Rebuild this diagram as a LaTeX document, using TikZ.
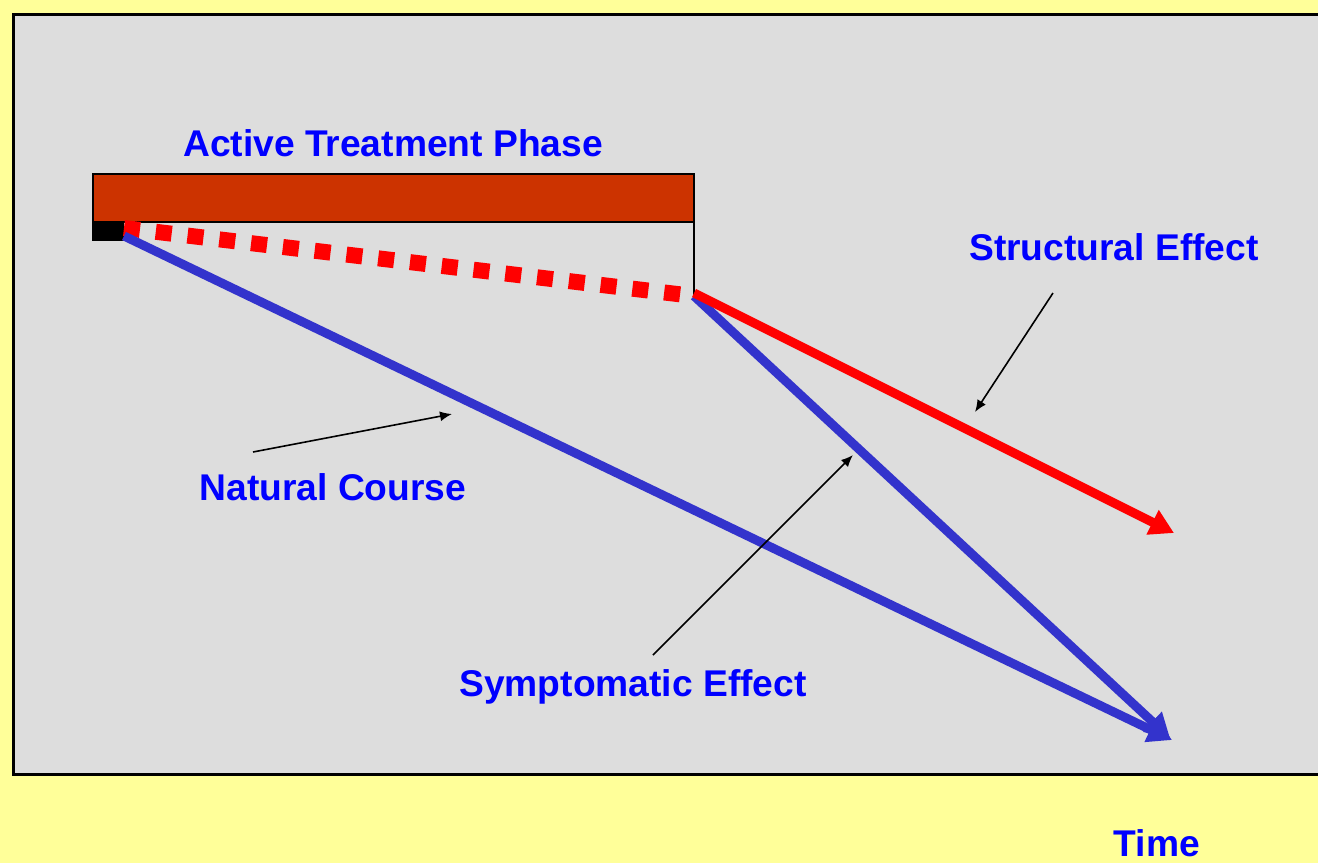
\documentclass[tikz,border=0pt]{standalone}
\usepackage{fontspec}
\setmainfont{Liberation Sans}
\usepackage{tikz}
\usetikzlibrary{arrows.meta,positioning,calc}
\usepackage{xcolor}
\definecolor{bgyellow}{HTML}{FFFF99}
\definecolor{panelgray}{HTML}{DDDDDD}
\definecolor{barred}{HTML}{CC3300}
\definecolor{courseblue}{HTML}{3333CC}
\definecolor{textblue}{HTML}{0000FF}

\begin{document}
\begin{tikzpicture}[x=0.5pt,y=-0.5pt,>=Latex, every node/.style={font=\bfseries\fontsize{18.6}{22}\selectfont,text=textblue}]
\tikzstyle{bigtip}=[-{Triangle[length=12pt,width=13pt]}]
\tikzstyle{pointer}=[-{Latex[length=6pt,width=5pt]},black,line width=0.8pt]
\useasboundingbox (0,0) rectangle (1318,863);
\fill[bgyellow] (0,0) rectangle (1318,863);
\begin{scope}
\clip (0,0) rectangle (1318,863);
\draw[fill=panelgray,line width=1.5pt] (13,14) rectangle (1330,774);
\end{scope}
% treatment bar
\draw[fill=barred,line width=1.2pt] (93,174) rectangle (694,222);
\fill[black] (92,222) rectangle (124,241);
\coordinate (start) at (124,236);
\coordinate (startdash) at (124,228);
\coordinate (endbar) at (694,222);
\coordinate (split) at (694,296);
\coordinate (structend) at (1174,533);
\coordinate (courseend) at (1172,740);
\coordinate (sympend) at (1170,738);
\draw[black,line width=1.2pt] (endbar) -- (split);
\draw[red,line width=8pt,dash pattern=on 8pt off 8pt] (startdash) -- (split);
\draw[courseblue,line width=4.5pt,bigtip] (start) -- (courseend);
\draw[courseblue,line width=4.5pt,bigtip] (split) -- (sympend);
\draw[red,line width=4.5pt,bigtip] ($(split)+(0,-3)$) -- (structend);
% labels
\node (atp) at (393,143) {Active Treatment Phase};
\node (struct) at (1114,247) {Structural Effect};
\node (natural) at (333,487) {Natural Course};
\node (symp) at (633,687) {Symptomatic Effect};
\node[inner sep=0pt] (time) at (1157,843) {Time};
\coordinate (structfrom) at (1053,293);
\coordinate (structto) at (975,412);
\coordinate (natfrom) at (253,452);
\coordinate (natto) at (452,414);
\coordinate (sympfrom) at (653,655);
\coordinate (sympto) at (853,455);
\draw[pointer] (structfrom) -- (structto);
\draw[pointer] (natfrom) -- (natto);
\draw[pointer] (sympfrom) -- (sympto);
\end{tikzpicture}
\end{document}
